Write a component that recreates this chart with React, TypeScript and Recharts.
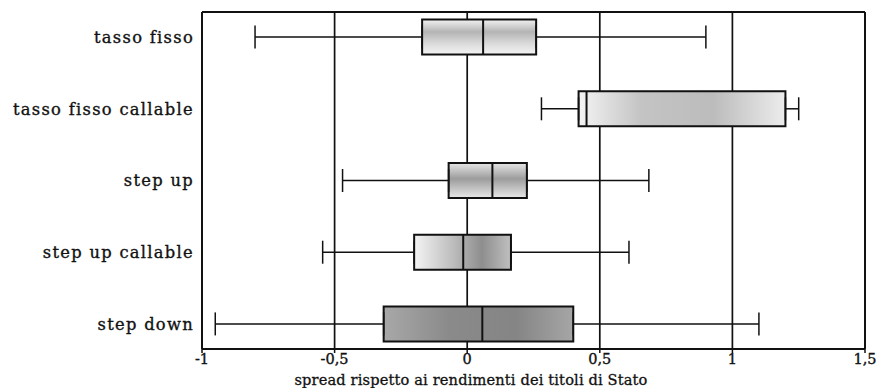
import React from 'react';
import {
  ScatterChart,
  Scatter,
  XAxis,
  YAxis,
  CartesianGrid,
  ReferenceArea,
  ReferenceLine,
  ErrorBar,
} from 'recharts';

const categories = [
  'tasso fisso',
  'tasso fisso callable',
  'step up',
  'step up callable',
  'step down',
];
const whiskerLow = [-0.8, 0.28, -0.47, -0.545, -0.95];
const quartile1 = [-0.17, 0.42, -0.07, -0.2, -0.315];
const medians = [0.06, 0.45, 0.095, -0.015, 0.057];
const quartile3 = [0.26, 1.2, 0.225, 0.165, 0.4];
const whiskerHigh = [0.9, 1.25, 0.685, 0.61, 1.1];
const xTicks = [-1, -0.5, 0, 0.5, 1, 1.5];
const axisTitle = 'spread rispetto ai rendimenti dei titoli di Stato';

const yIdx = categories.map((_, i) => i);
const lowerWhiskers = categories.map((_, i) => ({
  x: quartile1[i],
  y: i,
  err: [quartile1[i] - whiskerLow[i], 0],
}));
const upperWhiskers = categories.map((_, i) => ({
  x: quartile3[i],
  y: i,
  err: [0, whiskerHigh[i] - quartile3[i]],
}));
const medianPoints = categories.map((_, i) => ({ x: medians[i], y: i }));

const HALF = 0.244;
const fills = ['g0', 'g1', 'g2', 'g3', 'g4'];
const fmt = (v: number) => String(v).replace('.', ',');
const serif = 'DejaVu Serif';

const Empty = () => <g />;
const MedianShape = (p: any) => (
  <line x1={p.cx} x2={p.cx} y1={p.cy - 17.5} y2={p.cy + 17.5} stroke="#111" strokeWidth={2} />
);

const YTick = (p: any) => (
  <text
    x={p.x}
    y={p.y}
    dy="0.35em"
    textAnchor="end"
    fontFamily={serif}
    fontSize={16.3}
    letterSpacing={1.3}
    fill="#111"
    stroke="#111"
    strokeWidth={0.35}
  >
    {categories[p.payload.value] ?? ''}
  </text>
);

const XTick = (p: any) => (
  <text
    x={p.x}
    y={p.y}
    dy="0.72em"
    textAnchor="middle"
    fontFamily={serif}
    fontSize={14.5}
    fill="#111"
    stroke="#111"
    strokeWidth={0.35}
  >
    {fmt(p.payload.value)}
  </text>
);

export default function App() {
  return (
    <div style={{ position: 'absolute', left: 0, top: 0, width: 881, height: 388, background: '#fff' }}>
      <ScatterChart width={881} height={388} margin={{ top: 12, right: 16, bottom: 0, left: 0 }}>
        <defs>
          <linearGradient id="g0" x1="0" y1="0" x2="0" y2="1">
            <stop offset="0%" stopColor="#f2f2f2" />
            <stop offset="35%" stopColor="#b4b4b4" />
            <stop offset="70%" stopColor="#dcdcdc" />
            <stop offset="100%" stopColor="#f4f4f4" />
          </linearGradient>
          <linearGradient id="g1" x1="0" y1="0" x2="1" y2="0">
            <stop offset="0%" stopColor="#f4f4f4" />
            <stop offset="30%" stopColor="#c4c4c4" />
            <stop offset="65%" stopColor="#bcbcbc" />
            <stop offset="100%" stopColor="#ececec" />
          </linearGradient>
          <linearGradient id="g2" x1="0" y1="0" x2="0" y2="1">
            <stop offset="0%" stopColor="#e6e6e6" />
            <stop offset="45%" stopColor="#9c9c9c" />
            <stop offset="100%" stopColor="#e8e8e8" />
          </linearGradient>
          <linearGradient id="g3" x1="0" y1="0" x2="1" y2="0">
            <stop offset="0%" stopColor="#f4f4f4" />
            <stop offset="40%" stopColor="#bdbdbd" />
            <stop offset="70%" stopColor="#8e8e8e" />
            <stop offset="100%" stopColor="#c0c0c0" />
          </linearGradient>
          <linearGradient id="g4" x1="0" y1="0" x2="1" y2="0">
            <stop offset="0%" stopColor="#a8a8a8" />
            <stop offset="35%" stopColor="#8a8a8a" />
            <stop offset="70%" stopColor="#858585" />
            <stop offset="100%" stopColor="#a6a6a6" />
          </linearGradient>
        </defs>
        <CartesianGrid horizontal={false} stroke="#111" strokeWidth={1.7} />
        <XAxis
          type="number"
          dataKey="x"
          domain={[-1, 1.5]}
          ticks={xTicks}
          interval={0}
          height={39}
          axisLine={{ stroke: '#111', strokeWidth: 2 }}
          tickLine={{ stroke: '#111', strokeWidth: 1.5 }}
          tickSize={4}
          tickMargin={1}
          tick={<XTick />}
          label={{
            content: (props: any) => {
              const vb = props.viewBox;
              return (
                <text
                  x={vb.x + 269}
                  y={vb.y + 36}
                  textAnchor="middle"
                  fontFamily={serif}
                  fontSize={14.6}
                  letterSpacing={0.15}
                  fill="#111"
                  stroke="#111"
                  strokeWidth={0.3}
                >
                  {axisTitle}
                </text>
              );
            },
          }}
        />
        <YAxis
          type="number"
          dataKey="y"
          domain={[-0.35, 4.35]}
          reversed
          allowDataOverflow
          ticks={yIdx}
          interval={0}
          width={202}
          axisLine={{ stroke: '#111', strokeWidth: 2 }}
          tickLine={false}
          tick={<YTick />}
        />
        <ReferenceLine y={-0.35} stroke="#111" strokeWidth={2} ifOverflow="visible" />
        <ReferenceLine x={1.5} stroke="#111" strokeWidth={2} ifOverflow="visible" />
        <Scatter data={lowerWhiskers} shape={Empty} isAnimationActive={false}>
          <ErrorBar dataKey="err" direction="x" width={11.5} stroke="#111" strokeWidth={1.5} isAnimationActive={false} />
        </Scatter>
        <Scatter data={upperWhiskers} shape={Empty} isAnimationActive={false}>
          <ErrorBar dataKey="err" direction="x" width={11.5} stroke="#111" strokeWidth={1.5} isAnimationActive={false} />
        </Scatter>
        {categories.map((c, i) => (
          <ReferenceArea
            key={c}
            x1={quartile1[i]}
            x2={quartile3[i]}
            y1={i - HALF}
            y2={i + HALF}
            fill={`url(#${fills[i]})`}
            fillOpacity={1}
            stroke="#111"
            strokeWidth={2}
          />
        ))}
        <Scatter data={medianPoints} shape={MedianShape} isAnimationActive={false} />
      </ScatterChart>
    </div>
  );
}
